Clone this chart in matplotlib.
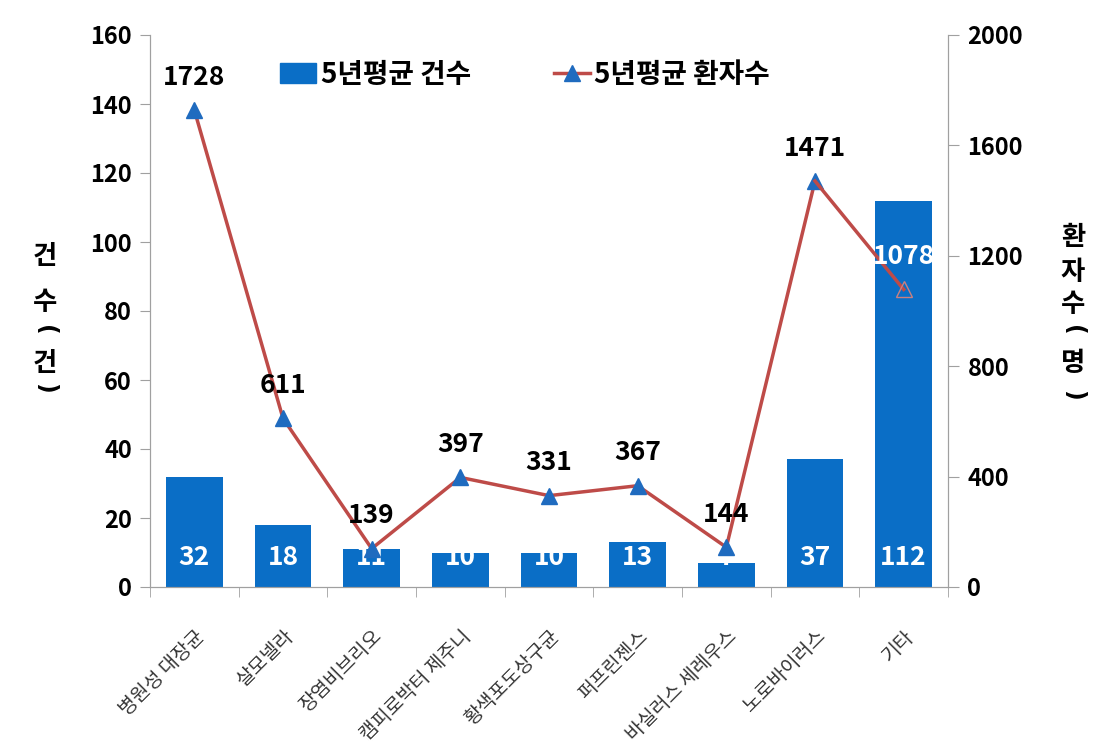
import matplotlib
matplotlib.use("Agg")
from matplotlib import pyplot as plt
from matplotlib.lines import Line2D
from matplotlib.patches import Patch
import numpy as np

plt.rcParams['font.family'] = ['Noto Sans CJK KR', 'DejaVu Sans']

categories = ['병원성 대장균', '살모넬라', '장염비브리오', '캠피로박터 제주니', '황색포도상구균',
              '퍼프린젠스', '바실러스 세레우스', '노로바이러스', '기타']
cases = [32, 18, 11, 10, 10, 13, 7, 37, 112]
patients = [1728, 611, 139, 397, 331, 367, 144, 1471, 1078]
bar_name = '5년평균 건수'
line_name = '5년평균 환자수'
left_label = ['건', '수', '(', '건', ')']
right_label = ['환', '자', '수', '(', '명', ')']

bar_color = '#0A6EC6'
line_color = '#BE4B48'
marker_color = '#1F6BBF'
spine_color = '#A0A0A0'

fig = plt.figure(figsize=(10.96, 7.48), dpi=100)
ax = fig.add_axes([150 / 1096, 1 - 587 / 748, 798 / 1096, 552 / 748])
ax2 = ax.twinx()

x = np.arange(len(categories))
ax.bar(x, cases, width=0.64, color=bar_color, zorder=2)
for xi, v in zip(x, cases):
    ax.text(xi, 8.5, str(v), ha='center', va='center', color='white',
            fontsize=19, fontweight='bold', zorder=3, clip_on=True)

ax2.plot(x[:-1], patients[:-1], color=line_color, lw=2.5, marker='^', markersize=11,
         markerfacecolor=marker_color, markeredgecolor=marker_color, zorder=4)
ax2.plot(x[-2:], patients[-2:], color=line_color, lw=2.5, zorder=4)
ax2.plot(x[-1:], patients[-1:], linestyle='none', marker='^', markersize=11,
         markerfacecolor='none', markeredgecolor='#C98080', zorder=4)
for i, (xi, v) in enumerate(zip(x, patients)):
    col = 'white' if i == len(patients) - 1 else 'black'
    ax2.annotate(str(v), (xi, v), xytext=(0, 14), textcoords='offset points',
                 ha='center', va='bottom', fontsize=19, fontweight='bold', color=col,
                 zorder=5)

ax.set_xlim(-0.5, len(categories) - 0.5)
ax.set_ylim(0, 160)
ax.set_yticks(np.arange(0, 161, 20))
ax2.set_ylim(0, 2000)
ax2.set_yticks(np.arange(0, 2001, 400))

ax.set_xticks(x)
ax.set_xticklabels(categories, rotation=45, ha='right', rotation_mode='anchor',
                   fontsize=14, color='#333333')
ax.set_xticks(np.arange(-0.5, len(categories), 1), minor=True)
ax.tick_params(axis='x', which='major', length=0, pad=28)
ax.tick_params(axis='x', which='minor', length=7, color=spine_color, direction='out')

for a in (ax, ax2):
    a.spines['top'].set_visible(False)
    for s in ('left', 'right', 'bottom'):
        a.spines[s].set_color(spine_color)
ax.tick_params(axis='y', length=7, color=spine_color, labelsize=17, pad=6)
ax2.tick_params(axis='y', length=8, color=spine_color, labelsize=17, pad=6)
for lab in ax.get_yticklabels() + ax2.get_yticklabels():
    lab.set_fontweight('bold')


def stacked(xc, ys, chars):
    # vertical axis title, one upright character per line, brackets turned sideways
    for y, ch in zip(ys, chars):
        if ch in '()':
            fig.text(xc / 1096, 1 - y / 748, ch, ha='center', va='center', rotation=-90,
                     fontsize=17, fontweight='bold', family='DejaVu Sans')
        else:
            fig.text(xc / 1096, 1 - y / 748, ch, ha='center', va='center',
                     fontsize=19, fontweight='bold')


stacked(45, [256, 303, 330, 363, 388], left_label)
stacked(1073, [238, 272, 305, 330, 363, 395], right_label)

handles = [Patch(facecolor=bar_color, edgecolor=bar_color),
           Line2D([], [], color=line_color, lw=2.5, marker='^', markersize=11,
                  markerfacecolor=marker_color, markeredgecolor=marker_color)]
ax2.legend(handles, [bar_name, line_name], loc='center', bbox_to_anchor=(0.47, 0.928),
           ncol=2, frameon=False, prop={'size': 20, 'weight': 'bold'},
           handlelength=1.3, handletextpad=0.15, columnspacing=3.0)

fig.savefig('out.png', dpi=100)
